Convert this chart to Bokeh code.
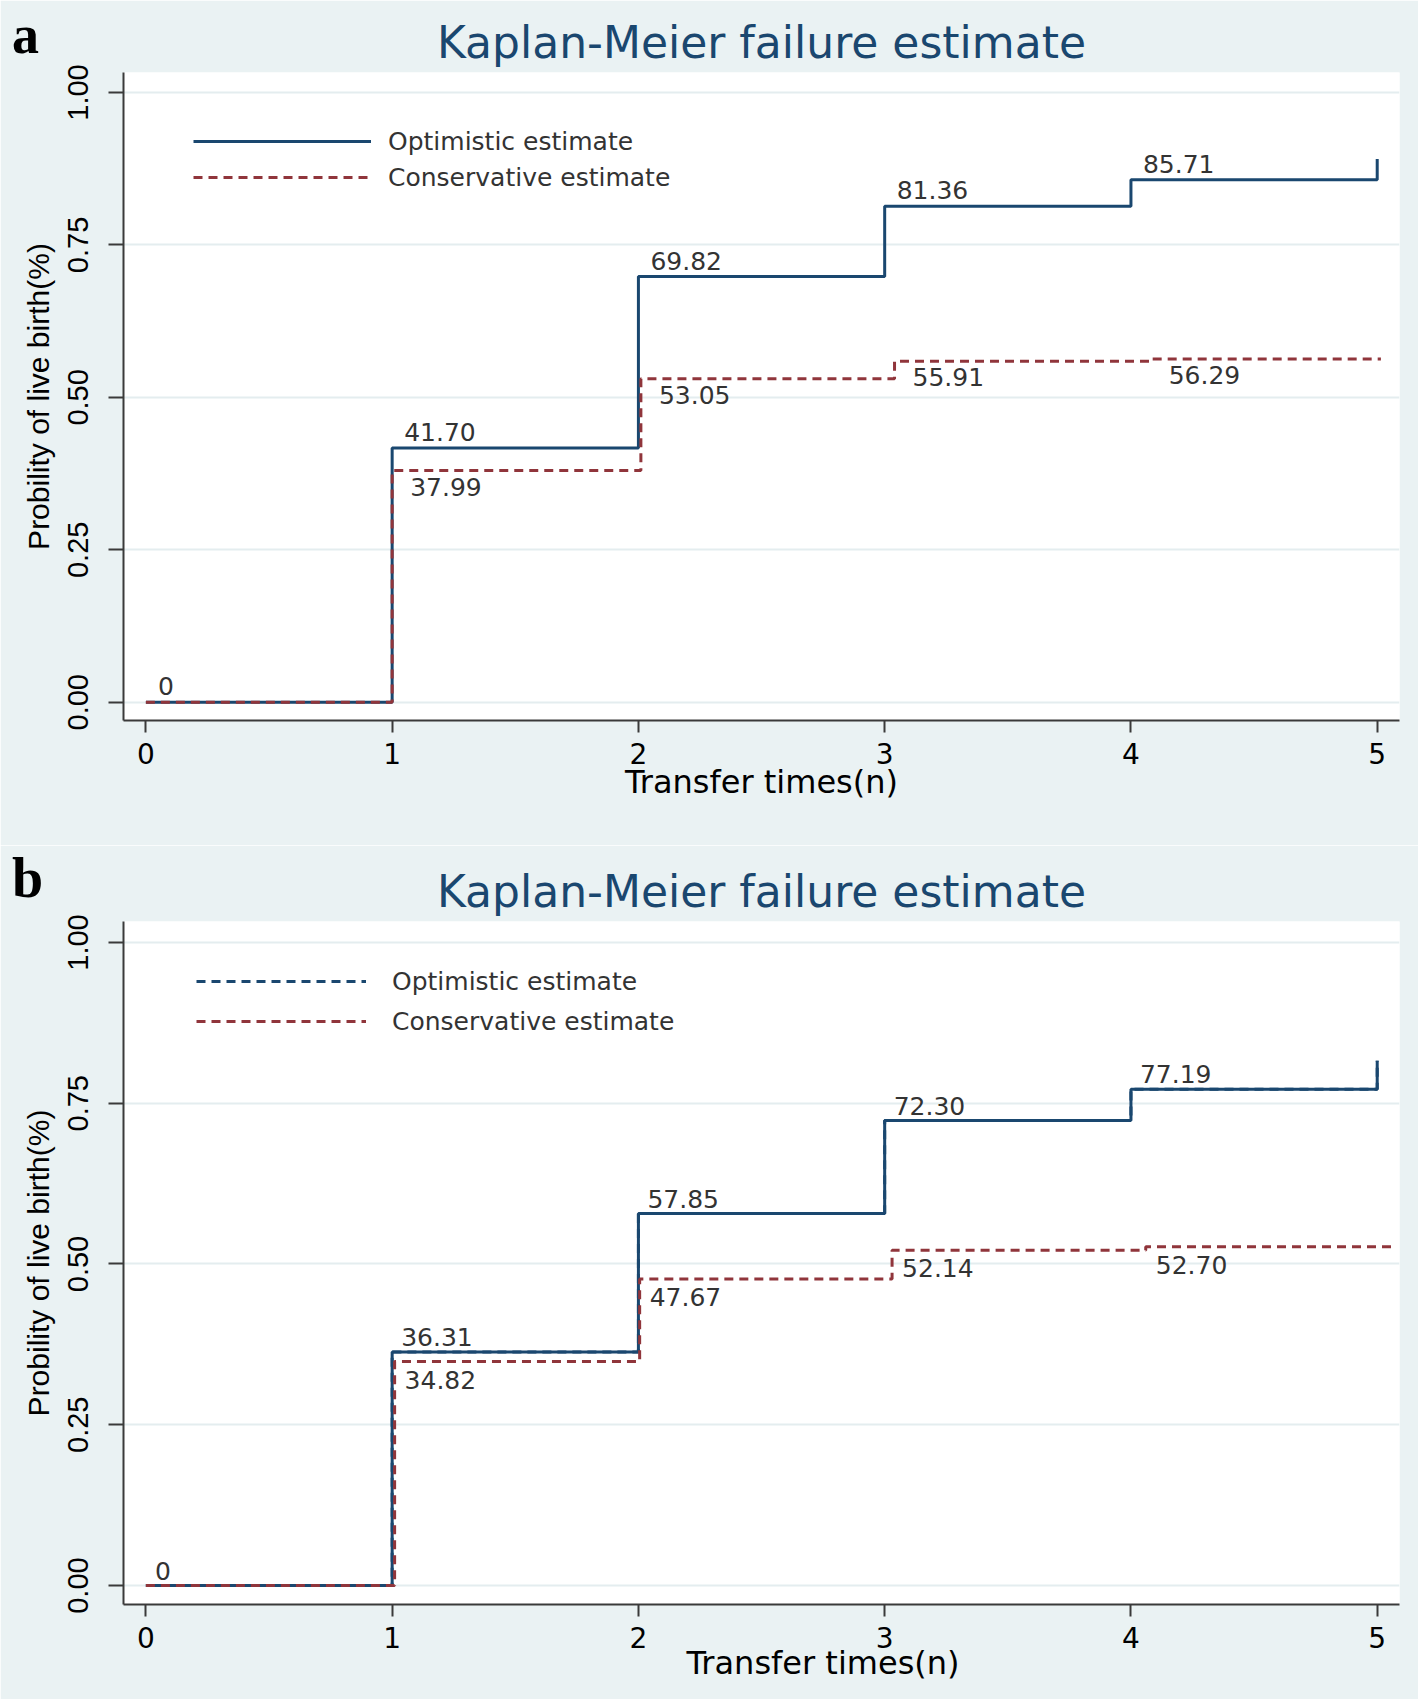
from bokeh.plotting import figure
from bokeh.layouts import column
from bokeh.models import (Range1d, FixedTicker, Legend, LegendItem, NumeralTickFormatter,
                          Title, Div)
from bokeh.core.properties import value
from bokeh.embed import file_html
from bokeh.resources import INLINE

# ---------------- data ----------------
# panel a
a_opt_t = [0, 1, 2, 3, 4, 5]
a_opt_p = [0.0, 0.4170, 0.6982, 0.8136, 0.8571, 0.891]
a_opt_lbl = ["0", "41.70", "69.82", "81.36", "85.71"]
a_con_t = [0, 1, 2.01, 3.04, 4.08, 5.015]
a_con_p = [0.0, 0.3799, 0.5305, 0.5591, 0.5629, 0.5629]
a_con_lbl = ["37.99", "53.05", "55.91", "56.29"]

# panel b
b_opt_t = [0, 1, 2, 3, 4, 5]
b_opt_p = [0.0, 0.3631, 0.5785, 0.7230, 0.7719, 0.816]
b_opt_lbl = ["0", "36.31", "57.85", "72.30", "77.19"]
b_con_t = [0, 1.01, 2.005, 3.03, 4.06, 5.06]
b_con_p = [0.0, 0.3482, 0.4767, 0.5214, 0.5270, 0.5270]
b_con_lbl = ["34.82", "47.67", "52.14", "52.70"]

x_ticks = [0, 1, 2, 3, 4, 5]
y_ticks = [0.0, 0.25, 0.5, 0.75, 1.0]
TITLE = "Kaplan-Meier failure estimate"
X_TITLE = "Transfer times(n)"
Y_TITLE = "Probility of live birth(%)"
LEGEND_LABELS = ["Optimistic estimate", "Conservative estimate"]
PANEL_LETTERS = ["a", "b"]

BG = "#eaf2f3"
BLUE = "#1a476f"
RED = "#90353b"
GRID = "#e4edef"
AXIS = "#3a3a3a"
TXT = "#333333"


def panel(opt_t, opt_p, opt_lbl, con_t, con_p, con_lbl, height,
          b_top, b_bottom, y_lo, y_hi, leg_x, leg_y, leg_pitch, leg_gw, leg_st,
          opt_leg_dashed, opt_off, con_off, xtitle_offset):
    p = figure(width=1418, height=height,
               x_range=Range1d(-0.0909, 5.0905), y_range=Range1d(y_lo, y_hi),
               output_backend="svg", toolbar_location=None,
               min_border_left=123, min_border_right=19,
               min_border_top=b_top, min_border_bottom=b_bottom,
               background_fill_color="white", border_fill_color=BG,
               outline_line_color=None)

    p.title.text = TITLE
    p.title.align = "center"
    p.title.text_font = "DejaVu Sans"
    p.title.text_font_size = "44px"
    p.title.text_font_style = "normal"
    p.title.text_color = BLUE
    p.title.standoff = 10

    p.xgrid.visible = False
    p.ygrid.ticker = FixedTicker(ticks=y_ticks)
    p.ygrid.grid_line_color = GRID
    p.ygrid.grid_line_width = 2

    p.xaxis.ticker = FixedTicker(ticks=x_ticks)
    p.yaxis.ticker = FixedTicker(ticks=y_ticks)
    p.yaxis.formatter = NumeralTickFormatter(format="0.00")
    for ax in (p.xaxis[0], p.yaxis[0]):
        ax.axis_line_color = AXIS
        ax.axis_line_width = 2
        ax.major_tick_line_color = AXIS
        ax.major_tick_line_width = 2
        ax.major_tick_in = 0
        ax.minor_tick_line_color = None
        ax.major_label_text_color = "black"
    p.xaxis.major_tick_out = 12
    p.xaxis.major_label_standoff = 10
    p.xaxis.major_label_text_font = "DejaVu Sans"
    p.xaxis.major_label_text_font_size = "28px"
    p.yaxis.major_tick_out = 15
    p.yaxis.major_label_standoff = 20
    p.yaxis.major_label_orientation = "vertical"
    p.yaxis.major_label_text_font = "Liberation Sans"
    p.yaxis.major_label_text_font_size = "29px"
    p.yaxis.axis_label = Y_TITLE
    p.yaxis.axis_label_text_font = "Liberation Sans"
    p.yaxis.axis_label_text_font_size = "30px"
    p.yaxis.axis_label_text_font_style = "normal"
    p.yaxis.axis_label_text_color = "black"
    p.yaxis.axis_label_standoff = 11

    if xtitle_offset is None:
        p.xaxis.axis_label = X_TITLE
        p.xaxis.axis_label_text_font = "DejaVu Sans"
        p.xaxis.axis_label_text_font_size = "32px"
        p.xaxis.axis_label_text_font_style = "normal"
        p.xaxis.axis_label_text_color = "black"
        p.xaxis.axis_label_standoff = -4
    else:
        p.add_layout(Title(text=X_TITLE, align="left", offset=xtitle_offset,
                           vertical_align="top", standoff=-13,
                           text_font="DejaVu Sans", text_font_size="32px",
                           text_font_style="normal", text_color="black"), "below")

    leg_opt = None
    if opt_leg_dashed:
        # dashed legend sample drawn underneath the solid curve
        leg_opt = p.step(opt_t, opt_p, mode="after", line_color=BLUE, line_width=3,
                         line_dash="9 6")
    opt_r = p.step(opt_t, opt_p, mode="after", line_color=BLUE, line_width=3)
    if leg_opt is None:
        leg_opt = opt_r
    con_r = p.step(con_t, con_p, mode="after", line_color=RED, line_width=3,
                   line_dash="9 6")

    n1 = len(opt_lbl)
    p.text(x=opt_t[:n1], y=opt_p[:n1], text=opt_lbl,
           x_offset=opt_off[0], y_offset=opt_off[1],
           text_align="left", text_baseline="middle",
           text_font=value("DejaVu Sans"), text_font_size="25px", text_color=TXT)
    n2 = len(con_lbl)
    p.text(x=con_t[1:1 + n2], y=con_p[1:1 + n2], text=con_lbl,
           x_offset=con_off[0], y_offset=con_off[1],
           text_align="left", text_baseline="middle",
           text_font=value("DejaVu Sans"), text_font_size="25px", text_color=TXT)

    legend = Legend(items=[LegendItem(label=LEGEND_LABELS[0], renderers=[leg_opt]),
                           LegendItem(label=LEGEND_LABELS[1], renderers=[con_r])],
                    location=(leg_x, leg_y), orientation="vertical",
                    glyph_width=leg_gw, glyph_height=leg_pitch, label_height=leg_pitch,
                    spacing=0, padding=0, margin=0, label_standoff=leg_st,
                    border_line_color=None, background_fill_alpha=0,
                    label_text_font="DejaVu Sans", label_text_font_size="25px",
                    label_text_color=TXT)
    p.add_layout(legend)
    return p


def letter_div(letter, left, top, size):
    return Div(text=letter,
               styles={"position": "absolute", "left": f"{left}px", "top": f"{top}px",
                       "z-index": "20", "font-family": "'Liberation Serif', serif",
                       "font-weight": "bold", "font-size": f"{size}px",
                       "line-height": "1", "color": "black", "margin": "0",
                       "padding": "0"})


pa = panel(a_opt_t, a_opt_p, a_opt_lbl, a_con_t, a_con_p, a_con_lbl,
           height=845, b_top=72, b_bottom=125, y_lo=-0.030, y_hi=1.0328,
           leg_x=70, leg_y=525, leg_pitch=36, leg_gw=178, leg_st=17,
           opt_leg_dashed=False, opt_off=(12, -16), con_off=(18, 16),
           xtitle_offset=None)

pb = panel(b_opt_t, b_opt_p, b_opt_lbl, b_con_t, b_con_p, b_con_lbl,
           height=854, b_top=76, b_bottom=95, y_lo=-0.0295, y_hi=1.0326,
           leg_x=73, leg_y=563, leg_pitch=40, leg_gw=170, leg_st=26,
           opt_leg_dashed=True, opt_off=(9, -15), con_off=(10, 18),
           xtitle_offset=563)

layout = column(pa, pb,
                letter_div(PANEL_LETTERS[0], 12, 8, 54),
                letter_div(PANEL_LETTERS[1], 12, 850, 56),
                spacing=0)
open("out.html", "w").write(file_html(layout, INLINE))
